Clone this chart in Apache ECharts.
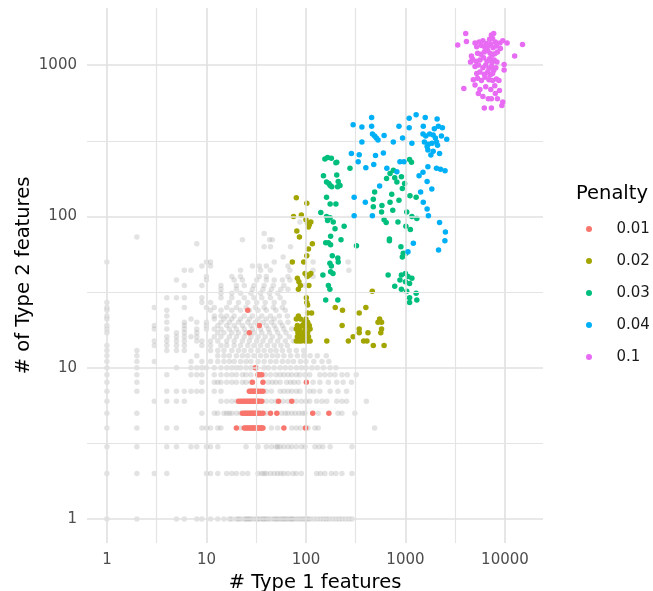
<!DOCTYPE html>
<html>
<head>
<meta charset="utf-8">
<script src="https://cdn.jsdelivr.net/npm/echarts@6/dist/echarts.min.js"></script>
<style>
html,body{margin:0;padding:0;background:#fff;}
#chart{width:653px;height:591px;}
</style>
</head>
<body>
<div id="chart"></div>
<script>
// ---- data ----
const xTicks = [1, 10, 100, 1000, 10000];
const yTicks = [1, 10, 100, 1000];
const xMinorGrid = [3.1623, 31.623, 316.23, 3162.3];
const yMinorGrid = [3.1623, 31.623, 316.23];
const penalties = ['0.01', '0.02', '0.03', '0.04', '0.1'];
const penaltyColors = ['#F8766D', '#A3A500', '#00BF7D', '#00B0F6', '#E76BF3'];

// grey background points: [y, [x values]]
const grayRows = [
  [1, [1,2,5,6,8,9,11,13,15,17,18,20,21,22,24,25,26,27,28,30,32,33,35,37,38,40,42,45,48,50,52,55,58,60,63,66,70,72,75,80,85,90,95,100,105,110,120,130,140,150,160,170,185,200,215,230,250,270,290]],
  [2, [1,2,3,4,10,11,13,16,18,20,23,26,33,36,38,40,44,48,52,56,60,66,74,80,90,128,140,155,180,200,230,290]],
  [3, [1,2,4,5,7,8,10,11,13,25,33,40,45,50,52,55,60,66,72,80,90,98,123,135,148,175,290]],
  [4, [1,2,4,5,9,10,11,13,14,22,24,26,28,30,33,36,45,52,72,80,88,100,105,123,133,490]],
  [5, [1,2,9,12,13,15,16,17,18,20,22,25,28,31,34,40,57,62,66,72,78,85,92,98,133,210,230,310]],
  [6, [1,3,4,5,6,14,16,18,20,40,45,50,59,66,80,90,100,109,128,145,162,204,230,256,405]],
  [7, [1,2,4,5,6,7,8,9,12,14,40,45,55,60,66,72,80,87,109,120,138,175,210,256]],
  [8, [1,2,9,12,13,14,16,18,20,23,25,28,42,46,50,55,64,70,76,84,118,138,168,204,236,287]],
  [9, [1,2,4,7,8,9,12,14,16,18,20,23,25,28,39,44,50,55,60,66,72,80,87,98,109,138,155,175,196,230,260,320]],
  [10, [1,2,5,7,8,9,10,12,14,16,18,20,22,25,28,32,38,42,48,55,62,70,80,90,100,115,130,150,175,200]],
  [11, [1,2,3,7,9,11,13,15,17,19,22,25,28,33,38,44,50,58,66,75,88,100,120,145,170]],
  [12, [1,2,8,13,15,17,20,23,26,30,35,40,46,52,60,70,82,95,110,130,160]],
  [13, [1,2,4,5,6,11,13,15,18,21,24,28,33,38,44,50,58,68,80,95]],
  [14, [1,3,4,5,6,9,11,14,16,19,22,26,30,35,41,48,56,65]],
  [15, [3,4,5,6,8,9,11,13,16,19,23,27,32,37,44,52,62,75]],
  [16, [4,5,6,7,8,12,14,17,20,24,28,33,39,46,55,68,85]],
  [17, [1,5,6,8,13,15,18,21,25,30,36,43,52,63]],
  [18, [1,3,4,6,8,10,12,14,17,20,24,29,35,42,50,60,72]],
  [19, [1,3,6,10,13,16,19,23,28,33,40,48,58]],
  [20, [4,6,8,10,14,17,21,26,31,37,45,55,66]],
  [21, [1,7,12,15,18,22,27,33,40,48]],
  [22, [1,4,12,14,16,19,24,29,36,44,54,65]],
  [24, [1,4,11,14,18,22,27,33,40,50,62]],
  [25, [1,3,6,10,12,16,20,25,31,38,47,58]],
  [27, [1,9,11,17,21,26,32,39,48,60]],
  [29, [4,5,6,9,14,18,24,30,36,44,55]],
  [31, [14,18,22,28,35,43,52]],
  [33, [14,20,29,37,45,56,66]],
  [35, [6,9,14,20,24,30,38,47,60,98]],
  [38, [5,10,19,23,32,40,48,58,69]],
  [40, [10,18,22,34,40,66,118]],
  [44, [6,7,22,35,44,69,118,270]],
  [47, [9,11,29,34,40,66]],
  [50, [1,10,11,48,118,265]],
  [54, [59]],
  [63, [38,44,70]],
  [66, [8]],
  [70, [23,43,46]],
  [73, [2]],
  [77, [38]],
  [92, [87]]
];

// penalty 0.01: [y, [x values]]
const redRows = [
  [4, [20,24,25,26,27,28,29,30,31,32,33,34,35,36,37,60,99]],
  [5, [23,24,25,26,27,28,29,30,31,32,33,35,37,44,51,117,170]],
  [6, [21,22,23,24,25,26,27,28,29,30,31,32,33,34,36,53,72]],
  [7, [27,28,29,30,31,32,33,35,37]],
  [8, [29,37,101]],
  [9, [33,34,36]],
  [10, [31]],
  [17, [27]],
  [19, [34]],
  [24, [26]]
];

const olivePoints = [
  [80,133],[102,122],[75,100],[90,102],[100,95],[104,90],[108,88],[112,92],[106,85],[81,80],[86,73],[116,66],
  [106,61],[102,55],[73,50],[95,50],[98,42],[103,40],[108,41],[112,42],[82,39],[85,37],[88,35],[84,33],[107,35],
  [101,29],[102,27],[104,26],[114,23],[104,23],
  [80,21],[84,22],[88,21],[96,20],[100,21],[104,20],[108,19],[80,18],[83,17],[86,18],[92,17],[98,18],[104,17],
  [110,18],[82,16],[88,16],[95,16],[100,16],[106,16],[80,15],[85,15],[90,15],[98,15],[104,15],[110,15],[82,19],
  [92,19],[100,19],
  [162,15],[197,25],[233,24],[231,19],[267,15],[298,16],[343,23],[400,25],[464,32],[343,17],[343,18],[420,17],
  [380,15],[410,15],[530,20],[550,21],[575,20],[575,18],[565,17],[475,14],[610,14]
];

const greenPoints = [
  [155,240],[165,245],[180,242],[204,228],[200,226],[150,186],[204,188],[211,170],[208,157],[161,169],[170,165],
  [182,157],[175,160],[220,160],[161,134],[200,121],[175,121],[141,106],[161,100],[175,98],[188,92],[165,94],[242,86],
  [196,83],[177,74],[225,70],[158,67],[168,67],[177,65],[322,64],[184,55],[209,53],[174,49],[180,47],[211,50],
  [148,41],[177,43],[187,42],[168,35],[174,33],[158,28],[209,28],[277,208],
  [756,202],[700,192],[780,180],[820,169],[911,183],[980,165],[930,153],[646,178],[490,145],[475,130],[580,118],
  [700,124],[728,140],[860,128],[1110,137],[1280,134],[745,110],[1030,107],[1160,100],[1300,97],[475,116],[575,107],
  [610,95],[640,91],[840,92],[1010,86],[1120,82],[690,71],[690,69],[900,63],[950,57],[1010,57],[930,54],[670,41],
  [910,41],[1000,42],[1060,40],[1160,39],[1100,238],[1150,228],
  [880,38],[1000,37],[1100,36],[780,34.5],[910,33],[1030,32],[1280,31],[1100,29],[1100,27],[1300,28]
];

const bluePoints = [
  [298,403],[365,390],[457,450],[457,395],[466,350],[490,340],[510,330],[530,320],[610,342],[365,310],[755,310],
  [860,395],[935,330],[1090,445],[1090,385],[1280,470],[1160,305],[1580,450],[1510,395],[2080,440],[2140,395],
  [2350,385],[1500,350],[1600,340],[1750,350],[1900,345],[2000,330],[1550,310],[1700,300],[1850,305],[2050,310],
  [2100,295],[1650,290],[2600,323],[1680,275],[1900,270],[2200,260],[1800,255],[286,260],[343,256],[335,230],
  [400,210],[480,220],[500,253],[600,262],[650,208],[820,197],[880,230],[965,230],[1370,186],[1500,196],[1650,170],
  [1680,213],[2050,208],[2250,205],[2500,200],[550,159],[1840,152],[1420,145],[1510,124],[1650,112],[1700,101],
  [305,134],[395,124],[305,101],[465,101],[2200,91],[2520,79],[2490,69],[1200,66.5],[2150,60],[1060,58.5],
  [2300,340],[1950,380]
];

const violetPoints = [
  [4030,1620],[7700,1620],[7300,1580],[3350,1360],[4100,1430],[10500,1400],[15000,1370],[12500,1150],
  [5000,1400],[5500,1420],[6000,1450],[6500,1390],[7000,1480],[7500,1500],[8000,1420],[8900,1400],[9500,1450],
  [5200,1320],[5800,1350],[6300,1300],[6800,1340],[7200,1380],[7600,1300],[8200,1340],[9000,1290],
  [4600,1150],[4700,1100],[5300,1200],[5700,1180],[6200,1220],[6700,1250],[7100,1200],[7400,1160],[7900,1190],[8400,1220],
  [4500,1050],[5100,1060],[5600,1080],[6100,1120],[6600,1060],[7000,1100],[7400,1040],[7800,1080],[8300,1050],[9800,1010],
  [5000,980],[5400,1000],[6000,960],[6400,1000],[6900,950],[7300,980],[7700,920],[8100,960],
  [5200,880],[5600,900],[6200,870],[6700,900],[7100,860],[7500,880],[9800,930],
  [4800,800],[5300,820],[5800,790],[6300,830],[6900,800],[7500,790],[8200,810],[8700,790],
  [3860,700],[5600,690],[7200,690],[8800,680],[6400,720],[5000,740],[7900,730],
  [6800,600],[6000,620],[7300,600],[8400,600],[6200,520],[7300,520],[9300,540],[9500,570],[5400,650],[8000,650]
];

// ---- build ----
function rowsToPoints(rows) {
  const out = [];
  rows.forEach(function (r) { r[1].forEach(function (x) { out.push([x, r[0]]); }); });
  return out;
}
const grayPoints = rowsToPoints(grayRows);
const redPoints = rowsToPoints(redRows);
const penaltyData = [redPoints, olivePoints, greenPoints, bluePoints, violetPoints];

const FONT = 'DejaVu Sans';
const gridLines = [];
xTicks.forEach(v => gridLines.push({xAxis: v, lineStyle: {width: 1.6, color: '#e0e0e0'}}));
xMinorGrid.forEach(v => gridLines.push({xAxis: v, lineStyle: {width: 1.2, color: '#e4e4e4'}}));
yTicks.forEach(v => gridLines.push({yAxis: v, lineStyle: {width: 1.6, color: '#e0e0e0'}}));
yMinorGrid.forEach(v => gridLines.push({yAxis: v, lineStyle: {width: 1.2, color: '#e4e4e4'}}));

const series = [{
  name: 'grid',
  type: 'scatter',
  data: [],
  z: 0,
  silent: true,
  markLine: {
    silent: true, symbol: 'none', animation: false,
    label: {show: false},
    lineStyle: {type: 'solid'},
    data: gridLines
  }
}, {
  name: 'other',
  type: 'scatter',
  data: grayPoints,
  symbolSize: 5.5,
  z: 1,
  itemStyle: {color: 'rgba(160,160,160,0.36)'}
}];
penalties.forEach(function (p, i) {
  series.push({
    name: p, type: 'scatter', data: penaltyData[i], symbolSize: 5.5, z: 2 + i,
    itemStyle: {color: penaltyColors[i], opacity: 1}
  });
});

const chart = echarts.init(document.getElementById('chart'), null, {renderer: 'canvas'});
chart.setOption({
  animation: false,
  backgroundColor: '#ffffff',
  textStyle: {fontFamily: FONT},
  grid: {left: 87, top: 8, width: 456, height: 535, containLabel: false, outerBoundsMode: 'none'},
  xAxis: {
    type: 'log', logBase: 10, min: 0.631, max: 24100,
    axisLine: {show: false}, axisTick: {show: false}, splitLine: {show: false}, minorSplitLine: {show: false},
    axisLabel: {customValues: xTicks, formatter: v => String(Math.round(v)), color: '#4d4d4d', fontSize: 15, margin: 10, fontFamily: FONT},
    name: '# Type 1 features', nameLocation: 'middle', nameGap: 23,
    nameTextStyle: {fontSize: 19.5, color: '#000', fontFamily: FONT}
  },
  yAxis: {
    type: 'log', logBase: 10, min: 0.694, max: 2385,
    axisLine: {show: false}, axisTick: {show: false}, splitLine: {show: false}, minorSplitLine: {show: false},
    axisLabel: {customValues: yTicks, formatter: v => String(Math.round(v)), color: '#4d4d4d', fontSize: 15, margin: 10, fontFamily: FONT},
    name: '# of Type 2 features', nameLocation: 'middle', nameGap: 53, nameRotate: 90,
    nameMoveOverlap: false,
    nameTextStyle: {fontSize: 19.5, color: '#000', fontFamily: FONT}
  },
  legend: {
    data: penalties,
    orient: 'vertical',
    left: 586, top: 219,
    padding: 0,
    itemWidth: 45, itemHeight: 6, itemGap: 12,
    icon: 'circle',
    textStyle: {fontSize: 15, color: '#1a1a1a', fontFamily: FONT, lineHeight: 20},
    selectedMode: false
  },
  graphic: [{
    type: 'text', left: 576, top: 184,
    style: {text: 'Penalty', fontSize: 19.5, fill: '#000', fontFamily: FONT}
  }],
  series: series
});
</script>
</body>
</html>
